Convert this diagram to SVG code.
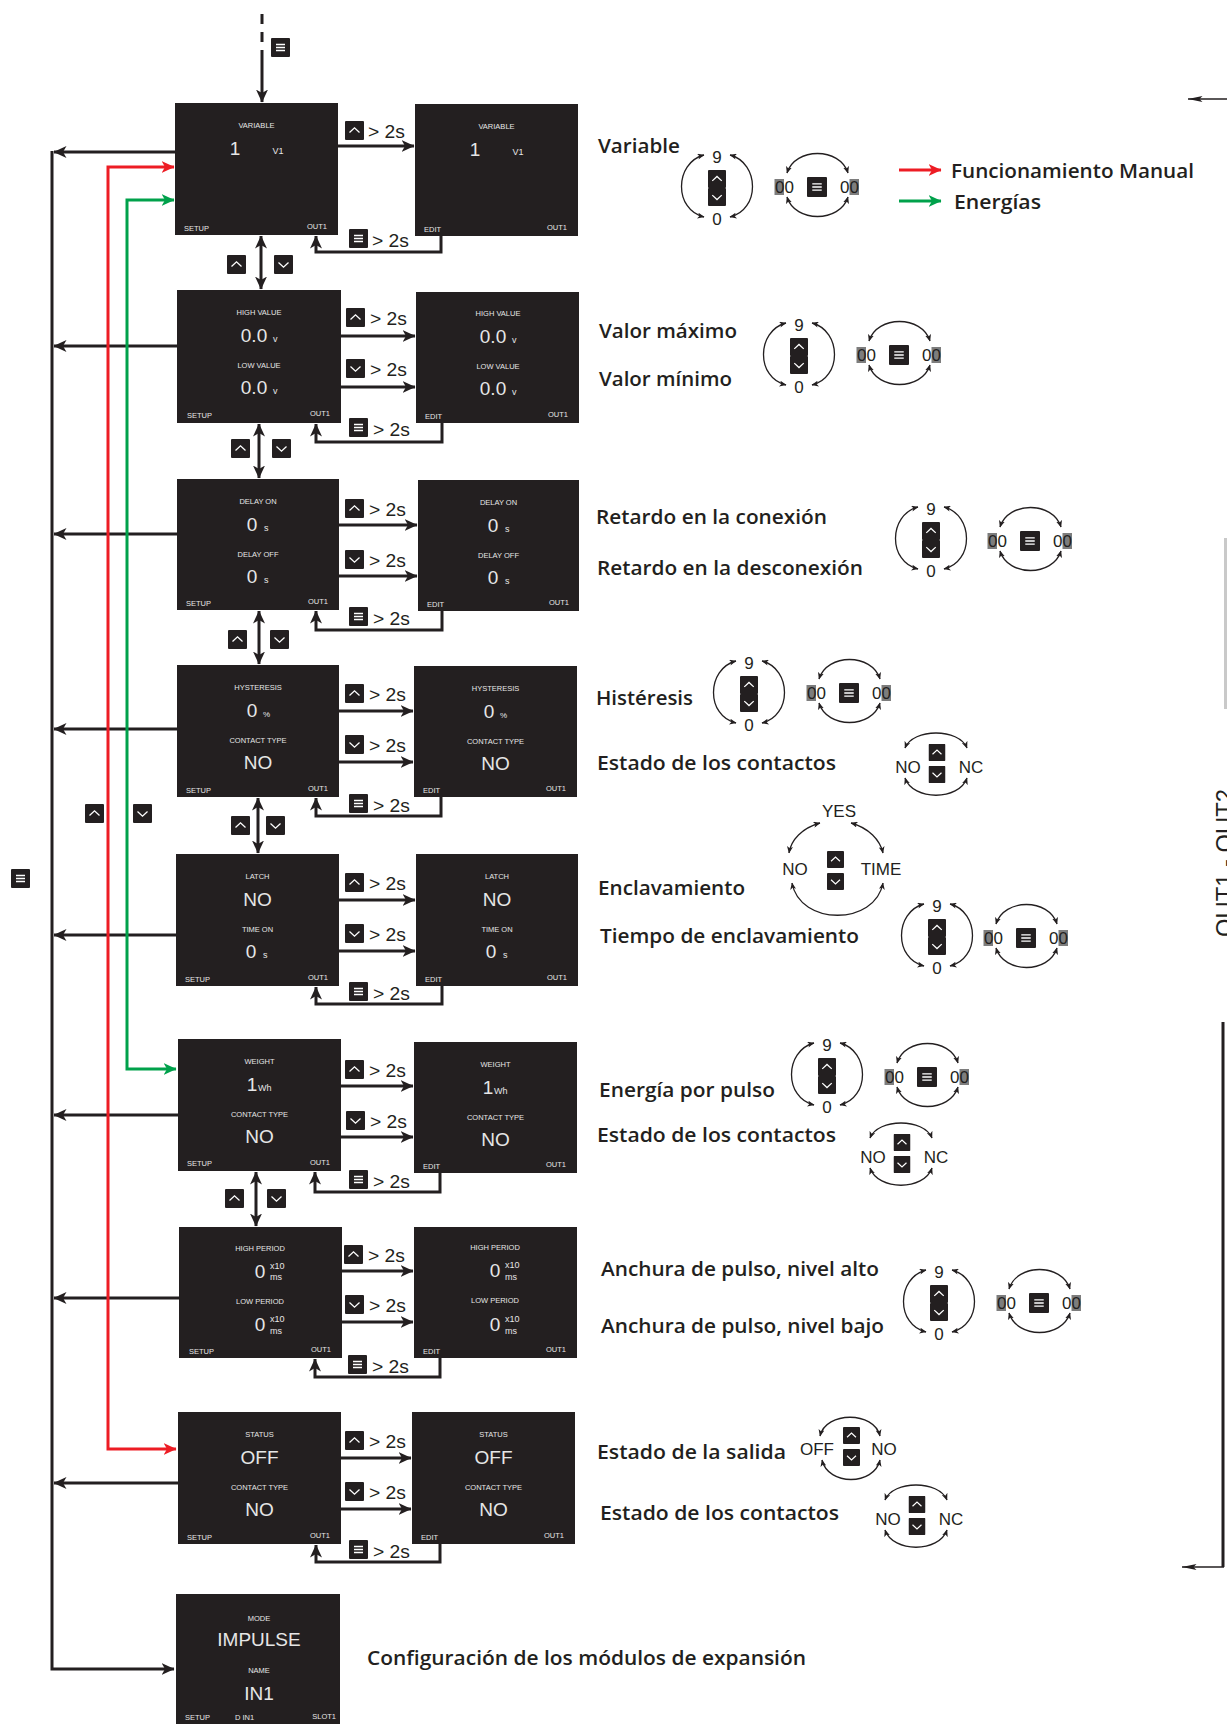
<svg xmlns="http://www.w3.org/2000/svg" width="1227" height="1724" viewBox="0 0 1227 1724">
<style>
.bx{fill:#231f20}
.w{font-family:"Liberation Sans",Arial,sans-serif;fill:#e6e6e6}
.lb{font-size:7.5px;text-anchor:middle}
.v{font-size:19px;text-anchor:middle}
.u{font-size:9px}
.f{font-size:7.5px}
.e{text-anchor:end}
.k{font-family:"Liberation Sans",Arial,sans-serif;font-size:19px;fill:#231f20}
.d{font-family:"Open Sans","Noto Sans",sans-serif;font-weight:600;font-size:19.5px;fill:#231f20}
.dg{font-family:"Liberation Sans",Arial,sans-serif;font-size:17px;fill:#231f20;text-anchor:middle}
.ln{fill:none;stroke:#231f20;stroke-width:3}
.arc{fill:none;stroke:#231f20;stroke-width:1.3;marker-start:url(#as);marker-end:url(#as)}
.hl{fill:#7d7d7d}
</style>
<defs>
<marker id="ah" viewBox="0 0 13 12" markerWidth="13" markerHeight="12" refX="12.5" refY="6" orient="auto-start-reverse" markerUnits="userSpaceOnUse"><path d="M0,0 L13,6 L0,12 L3.5,6z" fill="#231f20"/></marker>
<marker id="ar" viewBox="0 0 13 12" markerWidth="13" markerHeight="12" refX="12.5" refY="6" orient="auto-start-reverse" markerUnits="userSpaceOnUse"><path d="M0,0 L13,6 L0,12 L3.5,6z" fill="#ed1c24"/></marker>
<marker id="ag" viewBox="0 0 13 12" markerWidth="13" markerHeight="12" refX="12.5" refY="6" orient="auto-start-reverse" markerUnits="userSpaceOnUse"><path d="M0,0 L13,6 L0,12 L3.5,6z" fill="#00a14b"/></marker>
<marker id="as" viewBox="0 0 7 6" markerWidth="7" markerHeight="6" refX="6.5" refY="3" orient="auto-start-reverse" markerUnits="userSpaceOnUse"><path d="M0,0 L7,3 L0,6 L1.8,3z" fill="#231f20"/></marker>
<marker id="al" viewBox="0 0 15 6" markerWidth="15" markerHeight="6" refX="14.5" refY="3" orient="auto-start-reverse" markerUnits="userSpaceOnUse"><path d="M0,0 L15,3 L0,6 L3,3z" fill="#231f20"/></marker>
<symbol id="iu" viewBox="0 0 19 19"><rect width="19" height="19" rx="1" fill="#231f20"/><path d="M4.5,11.5 L9.5,6.8 L14.5,11.5" fill="none" stroke="#fff" stroke-width="1.3"/></symbol>
<symbol id="id" viewBox="0 0 19 19"><rect width="19" height="19" rx="1" fill="#231f20"/><path d="M4.5,7.5 L9.5,12.2 L14.5,7.5" fill="none" stroke="#fff" stroke-width="1.3"/></symbol>
<symbol id="im" viewBox="0 0 19 19"><rect width="19" height="19" rx="1" fill="#231f20"/><path d="M5,6.5H14M5,9.5H14M5,12.5H14" fill="none" stroke="#fff" stroke-width="1.3"/></symbol>
<g id="wA">
<text class="dg" x="0" y="-25">9</text>
<use href="#iu" x="-9" y="-18" width="18" height="18"/>
<use href="#id" x="-9" y="0" width="18" height="18"/>
<text class="dg" x="0" y="37">0</text>
<path class="arc" d="M-13,-33 C-43,-25 -43,22 -13,29"/>
<path class="arc" d="M13,-33 C43,-25 43,22 13,29"/>
</g>
<g id="wB">
<use href="#im" x="-10" y="-10" width="20" height="20"/>
<rect class="hl" x="-42.5" y="-8" width="9.5" height="16"/>
<text class="dg" x="-42" y="6" style="text-anchor:start">00</text>
<rect class="hl" x="32.5" y="-8" width="9.5" height="16"/>
<text class="dg" x="23" y="6" style="text-anchor:start">00</text>
<path class="arc" d="M-30,-14 C-22,-40 23,-40 31,-14"/>
<path class="arc" d="M-30,10 C-22,36 23,36 31,10"/>
</g>
<g id="wC">
<use href="#iu" x="-8.5" y="-19" width="17" height="17"/>
<use href="#id" x="-8.5" y="3" width="17" height="17"/>
<text class="dg" x="-29" y="10">NO</text>
<text class="dg" x="34" y="10">NC</text>
<path class="arc" d="M-32,-15 C-24,-35 22,-35 30,-15"/>
<path class="arc" d="M-32,15 C-24,38 22,38 30,15"/>
</g>
</defs>
<rect width="1227" height="1724" fill="#fff"/>

<!-- connectors -->
<g id="connectors">
<path class="ln" d="M262,14 V24 M262,32 V42"/>
<path class="ln" d="M262,50 V102" marker-end="url(#ah)"/>
<use href="#im" x="271" y="38" width="19" height="19"/>

<path class="ln" d="M52,151 V1669 H174" marker-end="url(#ah)"/>
<path class="ln" d="M175,152 H54" marker-end="url(#ah)"/>
<path class="ln" d="M177,346 H54" marker-end="url(#ah)"/>
<path class="ln" d="M177,534 H54" marker-end="url(#ah)"/>
<path class="ln" d="M177,729 H54" marker-end="url(#ah)"/>
<path class="ln" d="M176,935 H54" marker-end="url(#ah)"/>
<path class="ln" d="M178,1115 H54" marker-end="url(#ah)"/>
<path class="ln" d="M179,1298 H54" marker-end="url(#ah)"/>
<path class="ln" d="M178,1483 H54" marker-end="url(#ah)"/>
<path d="M174,167 H108 V1449 H176" fill="none" stroke="#ed1c24" stroke-width="3" marker-start="url(#ar)" marker-end="url(#ar)"/>
<path d="M174,200 H127 V1069 H176" fill="none" stroke="#00a14b" stroke-width="3" marker-start="url(#ag)" marker-end="url(#ag)"/>
<use href="#iu" x="85" y="804" width="19" height="19"/>
<use href="#id" x="133" y="804" width="19" height="19"/>
<use href="#im" x="11" y="869" width="19" height="19"/>

<path class="ln" d="M261,236 V289" marker-start="url(#ah)" marker-end="url(#ah)"/>
<use href="#iu" x="227" y="255" width="19" height="19"/><use href="#id" x="274" y="255" width="19" height="19"/>
<path class="ln" d="M259,424 V478" marker-start="url(#ah)" marker-end="url(#ah)"/>
<use href="#iu" x="231" y="439" width="19" height="19"/><use href="#id" x="272" y="439" width="19" height="19"/>
<path class="ln" d="M259,611 V664" marker-start="url(#ah)" marker-end="url(#ah)"/>
<use href="#iu" x="228" y="630" width="19" height="19"/><use href="#id" x="270" y="630" width="19" height="19"/>
<path class="ln" d="M258,798 V853" marker-start="url(#ah)" marker-end="url(#ah)"/>
<use href="#iu" x="231" y="816" width="19" height="19"/><use href="#id" x="266" y="816" width="19" height="19"/>
<path class="ln" d="M256,1172 V1226" marker-start="url(#ah)" marker-end="url(#ah)"/>
<use href="#iu" x="225" y="1189" width="19" height="19"/><use href="#id" x="267" y="1189" width="19" height="19"/>

<!-- row 1 -->
<path class="ln" d="M338,146 H414" marker-end="url(#ah)"/>
<use href="#iu" x="345" y="121" width="19" height="19"/><text class="k" x="368" y="138" textLength="37" lengthAdjust="spacingAndGlyphs">&gt; 2s</text>
<path class="ln" d="M441,236 V252 H316 V236" marker-end="url(#ah)"/>
<use href="#im" x="349" y="229" width="19" height="19"/><text class="k" x="372" y="247" textLength="37" lengthAdjust="spacingAndGlyphs">&gt; 2s</text>
<!-- row 2 -->
<path class="ln" d="M341,336 H415" marker-end="url(#ah)"/>
<use href="#iu" x="346" y="308" width="19" height="19"/><text class="k" x="370" y="325" textLength="37" lengthAdjust="spacingAndGlyphs">&gt; 2s</text>
<path class="ln" d="M341,387 H415" marker-end="url(#ah)"/>
<use href="#id" x="346" y="359" width="19" height="19"/><text class="k" x="370" y="376" textLength="37" lengthAdjust="spacingAndGlyphs">&gt; 2s</text>
<path class="ln" d="M442,423 V442 H316 V424" marker-end="url(#ah)"/>
<use href="#im" x="349" y="418" width="19" height="19"/><text class="k" x="373" y="436" textLength="37" lengthAdjust="spacingAndGlyphs">&gt; 2s</text>
<!-- row 3 -->
<path class="ln" d="M339,525 H417" marker-end="url(#ah)"/>
<use href="#iu" x="345" y="499" width="19" height="19"/><text class="k" x="369" y="516" textLength="37" lengthAdjust="spacingAndGlyphs">&gt; 2s</text>
<path class="ln" d="M339,576 H417" marker-end="url(#ah)"/>
<use href="#id" x="345" y="550" width="19" height="19"/><text class="k" x="369" y="567" textLength="37" lengthAdjust="spacingAndGlyphs">&gt; 2s</text>
<path class="ln" d="M442,611 V630 H316 V611" marker-end="url(#ah)"/>
<use href="#im" x="349" y="607" width="19" height="19"/><text class="k" x="373" y="625" textLength="37" lengthAdjust="spacingAndGlyphs">&gt; 2s</text>
<!-- row 4 -->
<path class="ln" d="M339,711 H413" marker-end="url(#ah)"/>
<use href="#iu" x="345" y="684" width="19" height="19"/><text class="k" x="369" y="701" textLength="37" lengthAdjust="spacingAndGlyphs">&gt; 2s</text>
<path class="ln" d="M339,762 H413" marker-end="url(#ah)"/>
<use href="#id" x="345" y="735" width="19" height="19"/><text class="k" x="369" y="752" textLength="37" lengthAdjust="spacingAndGlyphs">&gt; 2s</text>
<path class="ln" d="M441,797 V816 H316 V798" marker-end="url(#ah)"/>
<use href="#im" x="349" y="794" width="19" height="19"/><text class="k" x="373" y="812" textLength="37" lengthAdjust="spacingAndGlyphs">&gt; 2s</text>
<!-- row 5 -->
<path class="ln" d="M339,900 H415" marker-end="url(#ah)"/>
<use href="#iu" x="345" y="873" width="19" height="19"/><text class="k" x="369" y="890" textLength="37" lengthAdjust="spacingAndGlyphs">&gt; 2s</text>
<path class="ln" d="M339,951 H415" marker-end="url(#ah)"/>
<use href="#id" x="345" y="924" width="19" height="19"/><text class="k" x="369" y="941" textLength="37" lengthAdjust="spacingAndGlyphs">&gt; 2s</text>
<path class="ln" d="M442,986 V1004 H316 V987" marker-end="url(#ah)"/>
<use href="#im" x="349" y="982" width="19" height="19"/><text class="k" x="373" y="1000" textLength="37" lengthAdjust="spacingAndGlyphs">&gt; 2s</text>
<!-- row 6 -->
<path class="ln" d="M341,1086 H413" marker-end="url(#ah)"/>
<use href="#iu" x="345" y="1060" width="19" height="19"/><text class="k" x="369" y="1077" textLength="37" lengthAdjust="spacingAndGlyphs">&gt; 2s</text>
<path class="ln" d="M341,1137 H413" marker-end="url(#ah)"/>
<use href="#id" x="346" y="1111" width="19" height="19"/><text class="k" x="370" y="1128" textLength="37" lengthAdjust="spacingAndGlyphs">&gt; 2s</text>
<path class="ln" d="M440,1173 V1192 H315 V1172" marker-end="url(#ah)"/>
<use href="#im" x="349" y="1170" width="19" height="19"/><text class="k" x="373" y="1188" textLength="37" lengthAdjust="spacingAndGlyphs">&gt; 2s</text>
<!-- row 7 -->
<path class="ln" d="M342,1271 H413" marker-end="url(#ah)"/>
<use href="#iu" x="344" y="1245" width="19" height="19"/><text class="k" x="368" y="1262" textLength="37" lengthAdjust="spacingAndGlyphs">&gt; 2s</text>
<path class="ln" d="M342,1322 H413" marker-end="url(#ah)"/>
<use href="#id" x="345" y="1295" width="19" height="19"/><text class="k" x="369" y="1312" textLength="37" lengthAdjust="spacingAndGlyphs">&gt; 2s</text>
<path class="ln" d="M440,1358 V1377 H315 V1359" marker-end="url(#ah)"/>
<use href="#im" x="348" y="1355" width="19" height="19"/><text class="k" x="372" y="1373" textLength="37" lengthAdjust="spacingAndGlyphs">&gt; 2s</text>
<!-- row 8 -->
<path class="ln" d="M341,1458 H411" marker-end="url(#ah)"/>
<use href="#iu" x="345" y="1431" width="19" height="19"/><text class="k" x="369" y="1448" textLength="37" lengthAdjust="spacingAndGlyphs">&gt; 2s</text>
<path class="ln" d="M341,1509 H411" marker-end="url(#ah)"/>
<use href="#id" x="345" y="1482" width="19" height="19"/><text class="k" x="369" y="1499" textLength="37" lengthAdjust="spacingAndGlyphs">&gt; 2s</text>
<path class="ln" d="M440,1544 V1562 H316 V1545" marker-end="url(#ah)"/>
<use href="#im" x="349" y="1540" width="19" height="19"/><text class="k" x="373" y="1558" textLength="37" lengthAdjust="spacingAndGlyphs">&gt; 2s</text>

<!-- legend -->
<path d="M899,170 H941" stroke="#ed1c24" stroke-width="3" marker-end="url(#ar)"/>
<path d="M899,201 H941" stroke="#00a14b" stroke-width="3" marker-end="url(#ag)"/>

<!-- right edge (cropped) -->
<path d="M1227,99 H1188" stroke="#231f20" stroke-width="1.5" marker-end="url(#al)"/>
<rect x="1224" y="538" width="3" height="171" fill="#c9c9c9"/>
<path d="M1223,1022 V1567" stroke="#231f20" stroke-width="3"/>
<path d="M1224,1567 H1182" stroke="#231f20" stroke-width="1.5" marker-end="url(#al)"/>
</g>

<!-- nodes -->
<g id="n1-setup" transform="translate(175,103)"><rect class="bx" width="163" height="132"/><g class="w">
<text class="lb" x="81.5" y="25">VARIABLE</text><text class="v" x="60" y="52">1</text><text class="u" x="103" y="51" text-anchor="middle">V1</text>
<text class="f" x="9" y="128">SETUP</text><text class="f e" x="152" y="126">OUT1</text></g></g>
<g id="n1-edit" transform="translate(415,104)"><rect class="bx" width="163" height="132"/><g class="w">
<text class="lb" x="81.5" y="25">VARIABLE</text><text class="v" x="60" y="52">1</text><text class="u" x="103" y="51" text-anchor="middle">V1</text>
<text class="f" x="9" y="128">EDIT</text><text class="f e" x="152" y="126">OUT1</text></g></g>

<g id="n2-setup" transform="translate(177,290)"><rect class="bx" width="164" height="133"/><g class="w">
<text class="lb" x="82" y="25">HIGH VALUE</text><text class="v" x="77" y="52">0.0</text><text class="u" x="96" y="52">v</text>
<text class="lb" x="82" y="78">LOW VALUE</text><text class="v" x="77" y="104">0.0</text><text class="u" x="96" y="104">v</text>
<text class="f" x="10" y="128">SETUP</text><text class="f e" x="153" y="126">OUT1</text></g></g>
<g id="n2-edit" transform="translate(416,292)"><rect class="bx" width="163" height="131"/><g class="w">
<text class="lb" x="82" y="24">HIGH VALUE</text><text class="v" x="77" y="51">0.0</text><text class="u" x="96" y="51">v</text>
<text class="lb" x="82" y="77">LOW VALUE</text><text class="v" x="77" y="103">0.0</text><text class="u" x="96" y="103">v</text>
<text class="f" x="9" y="127">EDIT</text><text class="f e" x="152" y="125">OUT1</text></g></g>

<g id="n3-setup" transform="translate(177,479)"><rect class="bx" width="162" height="131"/><g class="w">
<text class="lb" x="81" y="25">DELAY ON</text><text class="v" x="75" y="52">0</text><text class="u" x="87" y="52">s</text>
<text class="lb" x="81" y="78">DELAY OFF</text><text class="v" x="75" y="104">0</text><text class="u" x="87" y="104">s</text>
<text class="f" x="9" y="127">SETUP</text><text class="f e" x="151" y="125">OUT1</text></g></g>
<g id="n3-edit" transform="translate(418,480)"><rect class="bx" width="161" height="131"/><g class="w">
<text class="lb" x="80.5" y="25">DELAY ON</text><text class="v" x="75" y="52">0</text><text class="u" x="87" y="52">s</text>
<text class="lb" x="80.5" y="78">DELAY OFF</text><text class="v" x="75" y="104">0</text><text class="u" x="87" y="104">s</text>
<text class="f" x="9" y="127">EDIT</text><text class="f e" x="151" y="125">OUT1</text></g></g>

<g id="n4-setup" transform="translate(177,665)"><rect class="bx" width="162" height="132"/><g class="w">
<text class="lb" x="81" y="25">HYSTERESIS</text><text class="v" x="75" y="52">0</text><text class="u" x="86" y="52" style="font-size:8px">%</text>
<text class="lb" x="81" y="78">CONTACT TYPE</text><text class="v" x="81" y="104">NO</text>
<text class="f" x="9" y="128">SETUP</text><text class="f e" x="151" y="126">OUT1</text></g></g>
<g id="n4-edit" transform="translate(414,666)"><rect class="bx" width="163" height="131"/><g class="w">
<text class="lb" x="81.5" y="25">HYSTERESIS</text><text class="v" x="75" y="52">0</text><text class="u" x="86" y="52" style="font-size:8px">%</text>
<text class="lb" x="81.5" y="78">CONTACT TYPE</text><text class="v" x="81.5" y="104">NO</text>
<text class="f" x="9" y="127">EDIT</text><text class="f e" x="152" y="125">OUT1</text></g></g>

<g id="n5-setup" transform="translate(176,854)"><rect class="bx" width="163" height="132"/><g class="w">
<text class="lb" x="81.5" y="25">LATCH</text><text class="v" x="81.5" y="52">NO</text>
<text class="lb" x="81.5" y="78">TIME ON</text><text class="v" x="75" y="104">0</text><text class="u" x="87" y="104">s</text>
<text class="f" x="9" y="128">SETUP</text><text class="f e" x="152" y="126">OUT1</text></g></g>
<g id="n5-edit" transform="translate(416,854)"><rect class="bx" width="162" height="132"/><g class="w">
<text class="lb" x="81" y="25">LATCH</text><text class="v" x="81" y="52">NO</text>
<text class="lb" x="81" y="78">TIME ON</text><text class="v" x="75" y="104">0</text><text class="u" x="87" y="104">s</text>
<text class="f" x="9" y="128">EDIT</text><text class="f e" x="151" y="126">OUT1</text></g></g>

<g id="n6-setup" transform="translate(178,1039)"><rect class="bx" width="163" height="132"/><g class="w">
<text class="lb" x="81.5" y="25">WEIGHT</text><text class="v" x="74" y="52">1</text><text class="u" x="80" y="52">Wh</text>
<text class="lb" x="81.5" y="78">CONTACT TYPE</text><text class="v" x="81.5" y="104">NO</text>
<text class="f" x="9" y="127">SETUP</text><text class="f e" x="152" y="126">OUT1</text></g></g>
<g id="n6-edit" transform="translate(414,1042)"><rect class="bx" width="163" height="131"/><g class="w">
<text class="lb" x="81.5" y="25">WEIGHT</text><text class="v" x="74" y="52">1</text><text class="u" x="80" y="52">Wh</text>
<text class="lb" x="81.5" y="78">CONTACT TYPE</text><text class="v" x="81.5" y="104">NO</text>
<text class="f" x="9" y="127">EDIT</text><text class="f e" x="152" y="125">OUT1</text></g></g>

<g id="n7-setup" transform="translate(179,1227)"><rect class="bx" width="163" height="131"/><g class="w">
<text class="lb" x="81" y="24">HIGH PERIOD</text><text class="v" x="81" y="51">0</text><text class="u" x="91" y="42">x10</text><text class="u" x="91" y="53">ms</text>
<text class="lb" x="81" y="77">LOW PERIOD</text><text class="v" x="81" y="104">0</text><text class="u" x="91" y="95">x10</text><text class="u" x="91" y="107">ms</text>
<text class="f" x="10" y="127">SETUP</text><text class="f e" x="152" y="125">OUT1</text></g></g>
<g id="n7-edit" transform="translate(414,1227)"><rect class="bx" width="163" height="131"/><g class="w">
<text class="lb" x="81" y="23">HIGH PERIOD</text><text class="v" x="81" y="50">0</text><text class="u" x="91" y="41">x10</text><text class="u" x="91" y="53">ms</text>
<text class="lb" x="81" y="76">LOW PERIOD</text><text class="v" x="81" y="104">0</text><text class="u" x="91" y="95">x10</text><text class="u" x="91" y="107">ms</text>
<text class="f" x="9" y="127">EDIT</text><text class="f e" x="152" y="125">OUT1</text></g></g>

<g id="n8-setup" transform="translate(178,1412)"><rect class="bx" width="163" height="132"/><g class="w">
<text class="lb" x="81.5" y="25">STATUS</text><text class="v" x="81.5" y="52">OFF</text>
<text class="lb" x="81.5" y="78">CONTACT TYPE</text><text class="v" x="81.5" y="104">NO</text>
<text class="f" x="9" y="128">SETUP</text><text class="f e" x="152" y="126">OUT1</text></g></g>
<g id="n8-edit" transform="translate(412,1412)"><rect class="bx" width="163" height="132"/><g class="w">
<text class="lb" x="81.5" y="25">STATUS</text><text class="v" x="81.5" y="52">OFF</text>
<text class="lb" x="81.5" y="78">CONTACT TYPE</text><text class="v" x="81.5" y="104">NO</text>
<text class="f" x="9" y="128">EDIT</text><text class="f e" x="152" y="126">OUT1</text></g></g>

<g id="n9-mode" transform="translate(176,1594)"><rect class="bx" width="164" height="130"/><g class="w">
<text class="lb" x="83" y="27">MODE</text><text class="v" x="83" y="52">IMPULSE</text>
<text class="lb" x="83" y="79">NAME</text><text class="v" x="83" y="106">IN1</text>
<text class="f" x="9" y="126">SETUP</text><text class="f" x="59" y="126">D  IN1</text><text class="f e" x="160" y="125">SLOT1</text></g></g>

<!-- descriptions -->
<g id="desc">
<text class="d" x="598" y="153" textLength="82" lengthAdjust="spacingAndGlyphs">Variable</text>
<text class="d" x="951" y="178" textLength="243" lengthAdjust="spacingAndGlyphs">Funcionamiento Manual</text>
<text class="d" x="954" y="209" textLength="87" lengthAdjust="spacingAndGlyphs">Energías</text>
<text class="d" x="599" y="338" textLength="138" lengthAdjust="spacingAndGlyphs">Valor máximo</text>
<text class="d" x="599" y="386" textLength="133" lengthAdjust="spacingAndGlyphs">Valor mínimo</text>
<text class="d" x="596" y="524" textLength="231" lengthAdjust="spacingAndGlyphs">Retardo en la conexión</text>
<text class="d" x="597" y="575" textLength="266" lengthAdjust="spacingAndGlyphs">Retardo en la desconexión</text>
<text class="d" x="596" y="705" textLength="97" lengthAdjust="spacingAndGlyphs">Histéresis</text>
<text class="d" x="597" y="770" textLength="239" lengthAdjust="spacingAndGlyphs">Estado de los contactos</text>
<text class="d" x="598" y="895" textLength="147" lengthAdjust="spacingAndGlyphs">Enclavamiento</text>
<text class="d" x="600" y="943" textLength="259" lengthAdjust="spacingAndGlyphs">Tiempo de enclavamiento</text>
<text class="d" x="599" y="1097" textLength="176" lengthAdjust="spacingAndGlyphs">Energía por pulso</text>
<text class="d" x="597" y="1142" textLength="239" lengthAdjust="spacingAndGlyphs">Estado de los contactos</text>
<text class="d" x="601" y="1276" textLength="278" lengthAdjust="spacingAndGlyphs">Anchura de pulso, nivel alto</text>
<text class="d" x="601" y="1333" textLength="283" lengthAdjust="spacingAndGlyphs">Anchura de pulso, nivel bajo</text>
<text class="d" x="597" y="1459" textLength="189" lengthAdjust="spacingAndGlyphs">Estado de la salida</text>
<text class="d" x="600" y="1520" textLength="239" lengthAdjust="spacingAndGlyphs">Estado de los contactos</text>
<text class="d" x="367" y="1665" textLength="439" lengthAdjust="spacingAndGlyphs">Configuración de los módulos de expansión</text>
<text x="1233" y="937" transform="rotate(-90 1233 937)" textLength="148" lengthAdjust="spacingAndGlyphs" style="font-family:'Liberation Sans',Arial,sans-serif;font-size:24px;fill:#231f20">OUT1 - OUT2</text>
</g>

<!-- value selector widgets -->
<g id="widgets">
<use href="#wA" x="717" y="188"/><use href="#wB" x="817" y="187"/>
<use href="#wA" x="799" y="356"/><use href="#wB" x="899" y="355"/>
<use href="#wA" x="931" y="540"/><use href="#wB" x="1030" y="541"/>
<use href="#wA" x="749" y="694"/><use href="#wB" x="849" y="693"/>
<use href="#wC" x="937" y="763"/>
<g id="w-latch">
<text class="dg" x="839" y="817">YES</text>
<text class="dg" x="795" y="875">NO</text>
<text class="dg" x="881" y="875">TIME</text>
<use href="#iu" x="827" y="851" width="17" height="17"/>
<use href="#id" x="827" y="873" width="17" height="17"/>
<path class="arc" d="M820,823 C802,828 791,840 789,853"/>
<path class="arc" d="M851,823 C869,828 880,840 883,853"/>
<path class="arc" d="M792,883 C800,926 875,926 883,883"/>
</g>
<use href="#wA" x="937" y="937"/><use href="#wB" x="1026" y="938"/>
<use href="#wA" x="827" y="1076"/><use href="#wB" x="927" y="1077"/>
<use href="#wC" x="902" y="1153"/>
<use href="#wA" x="939" y="1303"/><use href="#wB" x="1039" y="1303"/>
<g id="w-status">
<use href="#iu" x="843" y="1427" width="17" height="17"/>
<use href="#id" x="843" y="1449" width="17" height="17"/>
<text class="dg" x="817" y="1455">OFF</text>
<text class="dg" x="884" y="1455">NO</text>
<path class="arc" d="M820,1436 C826,1411 874,1411 880,1436"/>
<path class="arc" d="M822,1460 C828,1486 874,1486 880,1460"/>
</g>
<use href="#wC" x="917" y="1515"/>
</g>
</svg>
